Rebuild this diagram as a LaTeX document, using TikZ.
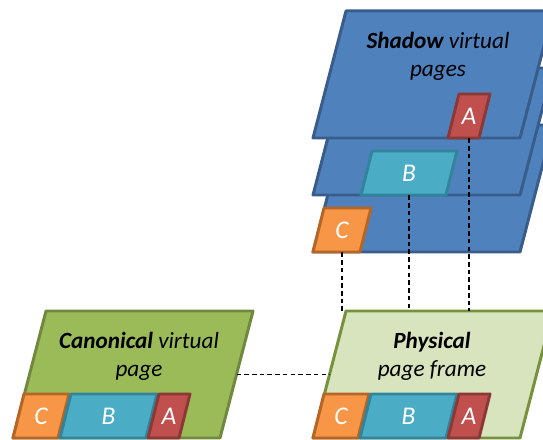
\documentclass[tikz,border=0pt]{standalone}
\usepackage{fontspec}
\setmainfont{Carlito}
\usepackage{tikz}
\usetikzlibrary{calc}
\definecolor{PageBlue}{RGB}{79,129,189}
\definecolor{PageBlueDark}{RGB}{56,93,138}
\definecolor{CanonGreen}{RGB}{155,187,89}
\definecolor{CanonGreenDark}{RGB}{113,137,63}
\definecolor{PhysGreen}{RGB}{215,228,189}
\definecolor{PhysGreenDark}{RGB}{118,146,60}
\definecolor{ChunkRed}{RGB}{192,80,77}
\definecolor{ChunkRedDark}{RGB}{140,56,54}
\definecolor{ChunkTeal}{RGB}{75,172,198}
\definecolor{ChunkTealDark}{RGB}{49,133,155}
\definecolor{ChunkOrange}{RGB}{247,150,70}
\definecolor{ChunkOrangeDark}{RGB}{182,101,36}

\begin{document}
\begin{tikzpicture}[
  x=0.02cm, y=0.02cm,
  font=\fontsize{13.2}{16}\selectfont\itshape,
  page/.style={line width=1.7pt, line join=round},
  shadowpage/.style={page, fill=PageBlue, draw=PageBlueDark},
  canonpage/.style={page, fill=CanonGreen, draw=CanonGreenDark},
  physpage/.style={page, fill=PhysGreen, draw=PhysGreenDark},
  chunk/.style={line width=1.7pt, line join=round},
  chunkA/.style={chunk, fill=ChunkRed, draw=ChunkRedDark},
  chunkB/.style={chunk, fill=ChunkTeal, draw=ChunkTealDark},
  chunkC/.style={chunk, fill=ChunkOrange, draw=ChunkOrangeDark},
  letter/.style={text=white, font=\fontsize{14.5}{14.5}\selectfont\itshape,
                 minimum height=0.88cm, inner sep=0pt},
  pagetext/.style={align=center, text=black},
  link/.style={black, line width=0.75pt, dash pattern=on 2.6pt off 1.8pt},
]
\useasboundingbox (0,0) rectangle (543,439);
\clip (0,0) rectangle (543,439);

% shadow pages, back to front
\draw[shadowpage] (313,187) -- ++(207,0) -- ++(33,127) -- ++(-207,0) -- cycle;
\draw[chunkC] (313,187) -- ++(47,0) -- ++(11,44) -- ++(-47,0) -- cycle;
\node[letter] (sC) at (342,209) {C};
\draw[shadowpage] (313,244) -- ++(207,0) -- ++(33,127) -- ++(-207,0) -- cycle;
\draw[chunkB] (361,244) -- ++(85,0) -- ++(11,44) -- ++(-85,0) -- cycle;
\node[letter] (sB) at (409,266) {B};
\draw[shadowpage] (313,301) -- ++(207,0) -- ++(33,127) -- ++(-207,0) -- cycle;
\draw[chunkA] (448,301) -- ++(31,0) -- ++(11,44) -- ++(-31,0) -- cycle;
\node[letter] (sA) at (469,323) {A};
\node[pagetext] (shadow) at (438,383) {\textbf{Shadow} virtual\\pages};

% canonical page
\draw[canonpage] (13,1) -- ++(207,0) coordinate (cBR) -- ++(33,127) coordinate (cTR)
  -- ++(-207,0) -- cycle;
\draw[chunkC] (13,1) -- ++(45,0) -- ++(11,44) -- ++(-45,0) -- cycle;
\draw[chunkB] (60,1) -- ++(86,0) -- ++(11,44) -- ++(-86,0) -- cycle;
\draw[chunkA] (148,1) -- ++(31,0) -- ++(11,44) -- ++(-31,0) -- cycle;
\node[letter] (cC) at (41,23) {C};
\node[letter] (cB) at (108.5,23) {B};
\node[letter] (cA) at (169,23) {A};
\node[pagetext] (canon) at (139,83) {\textbf{Canonical} virtual\\page};

% physical page
\draw[physpage] (313,1) coordinate (pBL) -- ++(207,0) -- ++(33,127)
  -- ++(-207,0) coordinate (pTL) -- cycle;
\draw[chunkC] (313,1) -- ++(45,0) -- ++(11,44) -- ++(-45,0) -- cycle;
\draw[chunkB] (360,1) -- ++(86,0) -- ++(11,44) -- ++(-86,0) -- cycle;
\draw[chunkA] (448,1) -- ++(31,0) -- ++(11,44) -- ++(-31,0) -- cycle;
\node[letter] (pC) at (341,23) {C};
\node[letter] (pB) at (408.5,23) {B};
\node[letter] (pA) at (469,23) {A};
\node[pagetext] (phys) at (432,83) {\textbf{Physical}\\page frame};

% mappings
\coordinate (canonR) at ($(cBR)!0.5!(cTR)$);
\coordinate (physL) at ($(pBL)!0.5!(pTL)$);
\draw[link] (canonR) -- (physL);
\draw[link] (sC.south) -- (sC.south |- pTL);
\draw[link] (sB.south) -- (sB.south |- pTL);
\draw[link] (sA.south) -- (sA.south |- pTL);

\end{tikzpicture}
\end{document}
